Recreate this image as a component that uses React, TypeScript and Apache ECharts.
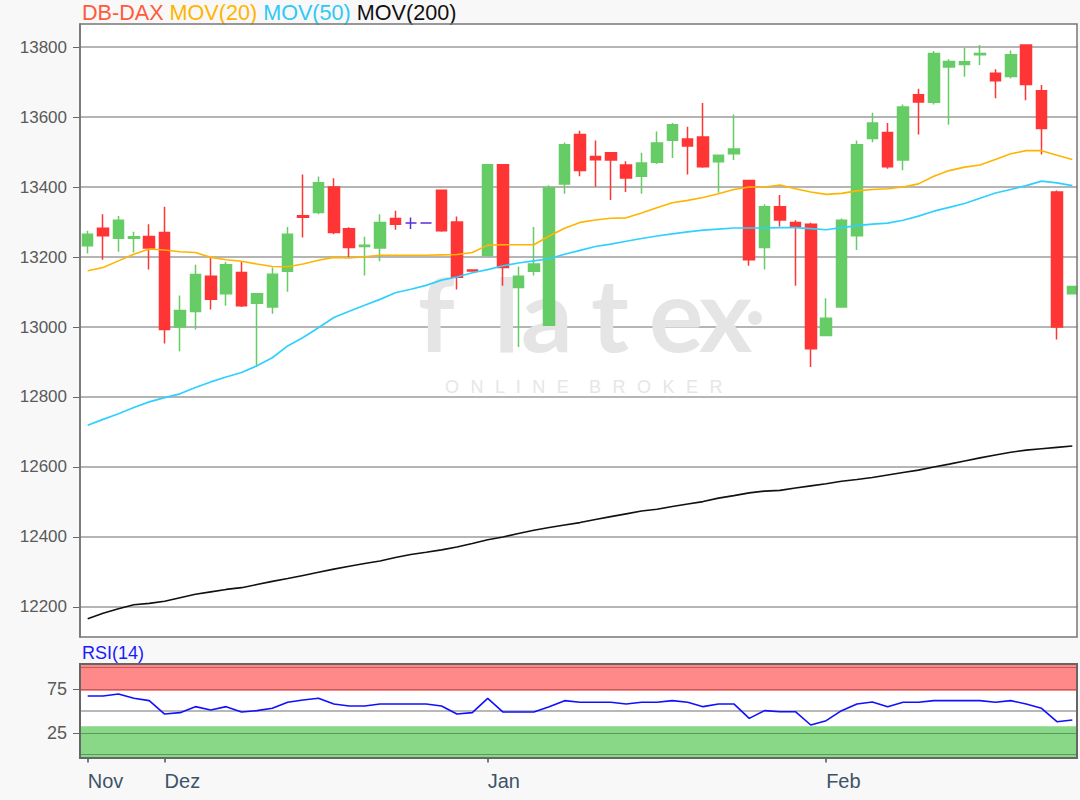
import React, { useEffect, useRef } from "react";
import * as echarts from "echarts";

const dates = [
  "2019-11-25", "2019-11-26", "2019-11-27", "2019-11-28", "2019-11-29",
  "2019-12-02", "2019-12-03", "2019-12-04", "2019-12-05", "2019-12-06",
  "2019-12-09", "2019-12-10", "2019-12-11", "2019-12-12", "2019-12-13",
  "2019-12-16", "2019-12-17", "2019-12-18", "2019-12-19", "2019-12-20",
  "2019-12-23", "2019-12-24", "2019-12-26", "2019-12-27", "2019-12-30",
  "2019-12-31",
  "2020-01-02", "2020-01-03", "2020-01-06", "2020-01-07", "2020-01-08",
  "2020-01-09", "2020-01-10", "2020-01-13", "2020-01-14", "2020-01-15",
  "2020-01-16", "2020-01-17", "2020-01-20", "2020-01-21", "2020-01-22",
  "2020-01-23", "2020-01-24", "2020-01-27", "2020-01-28", "2020-01-29",
  "2020-01-30", "2020-01-31",
  "2020-02-03", "2020-02-04", "2020-02-05", "2020-02-06", "2020-02-07",
  "2020-02-10", "2020-02-11", "2020-02-12", "2020-02-13", "2020-02-14",
  "2020-02-17", "2020-02-18", "2020-02-19", "2020-02-20", "2020-02-21",
  "2020-02-24", "2020-02-25",
];

const opens = [
  13232, 13282, 13254, 13254, 13259, 13270, 13000, 13044, 13145, 13095,
  13156, 13068, 13057, 13159, 13318, 13327, 13400, 13281, 13230, 13226,
  13310, 13297, 13297, 13391, 13300, 13163, 13204, 13464, 13113, 13159,
  13005, 13409, 13550, 13487, 13498, 13463, 13431, 13471, 13534, 13537,
  13543, 13472, 13495, 13419, 13227, 13344, 13299, 13294, 12976, 13057,
  13261, 13539, 13556, 13477, 13664, 13642, 13743, 13750, 13778, 13725,
  13716, 13806, 13675, 13386, 13095,
];
const closes = [
  13265, 13261, 13305, 13258, 13226, 12993, 13047, 13150, 13079, 13178,
  13061, 13095, 13151, 13265, 13314, 13412, 13270, 13227, 13234, 13299,
  13294, 13297, 13297, 13275, 13142, 13160, 13464, 13170, 13145, 13180,
  13398, 13521, 13447, 13478, 13477, 13426, 13469, 13526, 13578, 13517,
  13458, 13491, 13509, 13192, 13344, 13306, 13288, 12938, 13025, 13305,
  13521, 13583, 13458, 13629, 13643, 13782, 13759, 13758, 13782, 13704,
  13778, 13693, 13567, 13000, 13116,
];
const lows = [
  13210, 13192, 13215, 13213, 13164, 12953, 12931, 12993, 13050, 13061,
  13057, 12886, 13038, 13101, 13256, 13322, 13265, 13199, 13147, 13188,
  13278, 13280, 13297, 13272, 13107, 13160, 13203, 13118, 12943, 13147,
  13003, 13381, 13431, 13401, 13363, 13386, 13381, 13466, 13483, 13436,
  13455, 13384, 13477, 13175, 13164, 13287, 13118, 12886, 12975, 13055,
  13220, 13528, 13452, 13448, 13550, 13636, 13578, 13715, 13749, 13654,
  13710, 13648, 13493, 12964, 13093,
];
const highs = [
  13275, 13322, 13317, 13272, 13294, 13344, 13090, 13178, 13199, 13186,
  13187, 13097, 13170, 13286, 13436, 13430, 13425, 13285, 13258, 13322,
  13332, 13313, 13297, 13393, 13316, 13163, 13466, 13466, 13173, 13286,
  13405, 13527, 13561, 13533, 13499, 13474, 13498, 13559, 13583, 13572,
  13640, 13492, 13607, 13420, 13351, 13377, 13305, 13298, 13082, 13310,
  13533, 13612, 13583, 13636, 13681, 13789, 13765, 13798, 13806, 13737,
  13790, 13808, 13692, 13390, 13118,
];

const ma20 = [
  13161, 13170, 13189, 13208, 13223, 13220, 13215, 13213, 13199, 13192,
  13188, 13180, 13173, 13172, 13180, 13191, 13199, 13197, 13201, 13205,
  13205, 13205, 13205, 13206, 13207, 13213, 13234, 13235, 13235, 13235,
  13260, 13282, 13299, 13306, 13311, 13312, 13326, 13341, 13355, 13362,
  13370, 13381, 13393, 13400, 13400, 13406, 13395, 13386, 13379, 13382,
  13389, 13393, 13395, 13400, 13409, 13431, 13447, 13457, 13463, 13479,
  13495, 13504, 13504, 13491, 13479,
];
const ma50 = [
  12719, 12736, 12752, 12770, 12786, 12798, 12809, 12827, 12843, 12857,
  12870, 12889, 12912, 12946, 12970, 12998, 13027, 13045, 13062, 13079,
  13098, 13108, 13119, 13134, 13143, 13155, 13164, 13175, 13183, 13189,
  13195, 13208, 13219, 13230, 13237, 13245, 13253, 13260, 13266, 13272,
  13277, 13280, 13283, 13283, 13283, 13284, 13284, 13281, 13278, 13284,
  13290, 13294, 13297, 13305, 13317, 13331, 13342, 13353, 13368, 13383,
  13393, 13404, 13417, 13412, 13404,
];
const ma200 = [
  12166, 12182, 12195, 12206, 12210, 12216, 12226, 12236, 12243, 12250,
  12255, 12264, 12273, 12281, 12290, 12299, 12308, 12316, 12324, 12331,
  12341, 12350, 12356, 12363, 12371, 12381, 12392, 12400, 12410, 12419,
  12427, 12434, 12441, 12450, 12458, 12466, 12474, 12479, 12487, 12494,
  12501, 12511, 12518, 12526, 12531, 12533, 12540, 12546, 12552, 12559,
  12564, 12570, 12577, 12584, 12591, 12600, 12608, 12617, 12626, 12634,
  12642, 12648, 12652, 12656, 12660,
];
const rsi = [
  67.3, 67.3, 69.6, 64.6, 61.9, 46.5, 48.1, 55.0, 51.2, 55.0,
  48.8, 50.4, 53.1, 60.0, 62.7, 64.6, 58.1, 55.8, 55.8, 58.1,
  58.1, 58.1, 58.1, 55.8, 46.5, 48.1, 64.6, 48.8, 48.8, 48.8,
  55.0, 61.9, 60.0, 60.0, 60.0, 58.1, 60.0, 60.0, 61.9, 60.0,
  55.0, 58.1, 58.1, 41.5, 50.4, 49.2, 49.2, 33.9, 38.9, 50.4,
  58.1, 60.4, 55.0, 60.0, 60.0, 61.9, 61.9, 61.9, 61.9, 60.0,
  61.9, 58.1, 53.1, 37.7, 39.6,
];

const priceTicks = [12200, 12400, 12600, 12800, 13000, 13200, 13400, 13600, 13800];
const rsiTicks = [25, 75];
const monthNames: Record<string, string> = { "11": "Nov", "12": "Dez", "01": "Jan", "02": "Feb" };

const FONT = "Liberation Sans, Arial, sans-serif";
const BG = "#f8f8f8";
const WM = "#e5e5e5";

const isMonthStart = (i: number) =>
  i === 0 || dates[i].slice(5, 7) !== dates[i - 1].slice(5, 7);

export default function App() {
  const ref = useRef<HTMLDivElement>(null);

  useEffect(() => {
    document.body.style.margin = "0";
    if (!ref.current) return;
    const chart = echarts.init(ref.current, undefined, { renderer: "svg" });

    const candleData = dates.map((_, i) => [opens[i], closes[i], lows[i], highs[i]]);
    const wmFont = { fontSize: 102, fontFamily: "Lato, Noto Sans, sans-serif", fontWeight: "bold", fill: WM };
    const gap = "  \u200A";
    const sub = "ONLINE".split("").join(gap) + "    " + "BROKER".split("").join(gap);

    const option: any = {
      animation: false,
      backgroundColor: BG,
      textStyle: { fontFamily: FONT },
      title: {
        left: 82,
        top: 1,
        padding: 0,
        text: "{a|DB-DAX} {b|MOV(20)} {c|MOV(50)} {d|MOV(200)}",
        textStyle: {
          fontFamily: FONT,
          fontSize: 21.6,
          fontWeight: "normal",
          rich: {
            a: { color: "#ff5a3c", fontSize: 21.6, fontFamily: FONT },
            b: { color: "#ffb400", fontSize: 21.6, fontFamily: FONT },
            c: { color: "#2fc8f5", fontSize: 21.6, fontFamily: FONT },
            d: { color: "#111111", fontSize: 21.6, fontFamily: FONT },
          },
        },
      },
      grid: [
        { left: 80, top: 24, width: 1000, height: 613, show: true, backgroundColor: "#ffffff", borderWidth: 0 },
        { left: 80, top: 664, width: 1000, height: 94, show: true, backgroundColor: "#ffffff", borderWidth: 0 },
      ],
      xAxis: [
        { type: "category", gridIndex: 0, data: dates, boundaryGap: true, show: false },
        {
          type: "category",
          gridIndex: 1,
          data: dates,
          boundaryGap: true,
          axisLine: { show: false },
          axisTick: {
            show: true,
            alignWithLabel: true,
            interval: (i: number) => isMonthStart(i),
            length: 8,
            lineStyle: { color: "#3d5468", width: 1.5 },
          },
          axisLabel: {
            interval: (i: number) => isMonthStart(i),
            formatter: (v: string) => monthNames[v.slice(5, 7)],
            align: "left",
            color: "#3d5468",
            fontSize: 20,
            fontFamily: FONT,
            margin: 13,
          },
          splitLine: { show: false },
        },
      ],
      yAxis: [
        {
          type: "value",
          gridIndex: 0,
          min: 12114,
          max: 13866,
          axisLine: { show: true, lineStyle: { color: "#666", width: 1.5 } },
          axisTick: { show: true, length: 7, customValues: priceTicks, lineStyle: { color: "#666" } },
          axisLabel: {
            customValues: priceTicks,
            formatter: (v: number) => String(v),
            color: "#5a5a5a",
            fontSize: 17,
            fontFamily: FONT,
            margin: 13,
          },
          splitLine: { show: true, lineStyle: { color: "#9c9c9c", width: 1.5 } },
        },
        {
          type: "value",
          gridIndex: 1,
          min: -4,
          max: 104,
          axisLine: { show: true, lineStyle: { color: "#666", width: 1.5 } },
          axisTick: { show: true, length: 7, customValues: rsiTicks, lineStyle: { color: "#666" } },
          axisLabel: {
            customValues: rsiTicks,
            formatter: (v: number) => String(v),
            color: "#5a5a5a",
            fontSize: 18,
            fontFamily: FONT,
            margin: 13,
          },
          splitLine: { show: false },
        },
      ],
      series: [
        {
          type: "candlestick",
          name: "DB-DAX",
          xAxisIndex: 0,
          yAxisIndex: 0,
          data: candleData,
          barWidth: 11,
          z: 3,
          itemStyle: {
            color: "#66cc66",
            color0: "#ff3535",
            borderColor: "#66cc66",
            borderColor0: "#ff3535",
            borderColorDoji: "#5a2fd8",
            borderWidth: 1.5,
          },
        },
        {
          type: "line", name: "MOV(20)", xAxisIndex: 0, yAxisIndex: 0, data: ma20,
          symbol: "none", z: 4, lineStyle: { color: "#ffb400", width: 1.6 },
        },
        {
          type: "line", name: "MOV(50)", xAxisIndex: 0, yAxisIndex: 0, data: ma50,
          symbol: "none", z: 4, lineStyle: { color: "#2fd0ff", width: 1.7 },
        },
        {
          type: "line", name: "MOV(200)", xAxisIndex: 0, yAxisIndex: 0, data: ma200,
          symbol: "none", z: 4, lineStyle: { color: "#111111", width: 1.6 },
        },
        {
          type: "line", name: "RSI(14)", xAxisIndex: 1, yAxisIndex: 1, data: rsi,
          symbol: "none", z: 5, lineStyle: { color: "#1010ff", width: 1.6 },
          markArea: {
            silent: true,
            data: [
              [{ yAxis: 73, itemStyle: { color: "#ff8888" } }, { yAxis: 104 }],
              [{ yAxis: -4, itemStyle: { color: "#88d888" } }, { yAxis: 32.5 }],
            ],
          },
          markLine: {
            silent: true,
            symbol: "none",
            label: { show: false },
            data: [
              { yAxis: 100, lineStyle: { color: "#c85a5a", width: 1, type: "solid" } },
              { yAxis: 75, lineStyle: { color: "#c85a5a", width: 1, type: "solid" } },
              { yAxis: 50, lineStyle: { color: "#a0a0a0", width: 1.5, type: "solid" } },
              { yAxis: 25, lineStyle: { color: "#5a9a5a", width: 1, type: "solid" } },
              { yAxis: 0, lineStyle: { color: "#5a9a5a", width: 1, type: "solid" } },
            ],
          },
        },
      ],
      graphic: [
        {
          type: "text",
          z: 1,
          silent: true,
          x: 418,
          y: 312,
          style: {
            text: "{f|f}{l|l}{a|a}{t|t}{e|e}{x|x}",
            ...wmFont,
            verticalAlign: "middle",
            rich: {
              f: { ...wmFont, width: 76 },
              l: { ...wmFont, width: 27 },
              a: { ...wmFont, width: 70 },
              t: { ...wmFont, width: 58 },
              e: { ...wmFont, width: 50 },
              x: { ...wmFont },
            },
          },
        },
        { type: "circle", z: 1, silent: true, shape: { cx: 755, cy: 318, r: 7 }, style: { fill: WM } },
        {
          type: "text", z: 1, silent: true, x: 445, y: 387,
          style: {
            text: sub,
            fill: "#e6e6e6", fontSize: 18, fontFamily: FONT, verticalAlign: "middle",
          },
        },
        { type: "rect", z: 100, silent: true, shape: { x: 1077.5, y: 20, width: 3, height: 745 }, style: { fill: BG } },
        { type: "rect", z: 101, silent: true, shape: { x: 80, y: 24, width: 997, height: 613 }, style: { fill: "none", stroke: "#777", lineWidth: 1.5 } },
        { type: "rect", z: 101, silent: true, shape: { x: 80, y: 664, width: 997, height: 94 }, style: { fill: "none", stroke: "#666", lineWidth: 2 } },
        {
          type: "text", z: 101, silent: true, left: 82, top: 644,
          style: { text: "RSI(14)", fill: "#1a1aff", fontSize: 18, fontFamily: FONT },
        },
      ],
    };

    chart.setOption(option);
    return () => chart.dispose();
  }, []);

  return <div ref={ref} style={{ width: 1080, height: 800, background: BG }} />;
}
